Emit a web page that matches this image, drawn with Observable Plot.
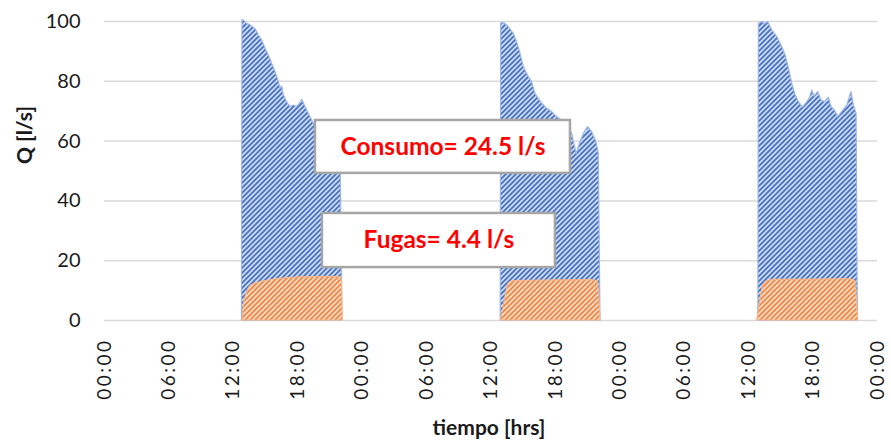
<!DOCTYPE html>
<html>
<head>
<meta charset="utf-8">
<script src="https://cdn.jsdelivr.net/npm/d3@7"></script>
<script src="https://cdn.jsdelivr.net/npm/@observablehq/plot@0.6"></script>
<style>
  html, body { margin: 0; padding: 0; background: #fff; }
  #chart svg { display: block; }
  #chart g[aria-label="x-axis tick label"] text { letter-spacing: 2.5px; }
</style>
</head>
<body>
<div id="chart"></div>
<script>
// ---- Data (hours since start, Q in l/s) ----
const horasConsumo1 = [12.8, 12.85, 12.98, 13.29, 13.6, 14.06, 14.38, 14.69, 15.0, 15.31, 15.62, 15.93, 16.24, 16.39, 16.55, 16.7, 17.01, 17.32, 17.63, 17.94, 18.25, 18.41, 18.63, 18.88, 19.19, 19.5, 20.5, 21.3, 22.0, 22.15];
const consumo1     = [0, 100.5, 100.3, 99.2, 98.7, 97.5, 95.3, 93.6, 90.9, 88.6, 85.8, 83.1, 79.7, 77.5, 78.3, 75.3, 73.0, 71.4, 71.9, 71.4, 72.7, 73.8, 72.2, 70.2, 68.0, 65.7, 61, 57, 54, 0];

const horasConsumo2 = [36.9, 36.95, 37.26, 37.66, 38.12, 38.43, 38.75, 39.06, 39.52, 39.83, 40.14, 40.45, 40.77, 41.23, 41.7, 42.16, 42.63, 43.1, 43.56, 43.97, 44.28, 44.65, 45.05, 45.42, 45.83, 46.04, 46.2];
const consumo2      = [0, 99.4, 99.4, 98.1, 95.9, 93.1, 89.2, 84.7, 81.4, 79.7, 75.8, 74.1, 72.5, 70.8, 69.7, 68.0, 66.9, 66.3, 62.4, 55.7, 59.0, 62.4, 64.7, 63.0, 59.6, 55.7, 0];

const horasConsumo3 = [60.9, 60.95, 61.26, 61.57, 61.82, 62.2, 62.66, 63.13, 63.44, 63.75, 64.06, 64.37, 64.68, 65.05, 65.36, 65.67, 65.92, 66.13, 66.47, 66.79, 67.1, 67.47, 67.72, 68.03, 68.34, 68.71, 69.18, 69.58, 69.8, 70.05, 70.17];
const consumo3      = [0, 99.2, 99.8, 99.2, 99.8, 97.0, 94.8, 91.4, 88.6, 84.2, 79.1, 75.3, 73.0, 71.2, 72.5, 74.1, 76.9, 74.9, 76.4, 73.6, 73.0, 74.5, 71.4, 70.2, 68.0, 69.7, 71.9, 76.4, 71.9, 69.1, 0];

const horasFugas1 = [12.85, 13.0, 13.3, 13.6, 14.2, 15.0, 16.0, 17.5, 19.0, 21.0, 21.95, 22.1, 22.2];
const fugas1      = [0, 5.6, 9.5, 11.5, 12.5, 13.2, 13.8, 14.3, 14.5, 14.6, 14.5, 13.5, 0];

const horasFugas2 = [36.94, 37.3, 37.65, 38.0, 38.5, 42.0, 45.5, 45.95, 46.2];
const fugas2      = [0, 7, 12.3, 13.1, 13.2, 13.4, 13.5, 13.0, 0];

const horasFugas3 = [60.8, 61.1, 61.4, 61.8, 62.5, 66.0, 69.5, 69.9, 70.2];
const fugas3      = [0, 7, 12, 13.3, 13.6, 13.7, 13.8, 13.2, 0];

const horasTicks = [0, 6, 12, 18, 24, 30, 36, 42, 48, 54, 60, 66, 72];
const etiquetasX = ["00:00","06:00","12:00","18:00","00:00","06:00","12:00","18:00","00:00","06:00","12:00","18:00","00:00"];
const ticksY = [0, 20, 40, 60, 80, 100];

const textosAnotacion = ["Consumo= 24.5 l/s", "Fugas= 4.4 l/s"];
const anotH1 = [19.65, 20.3];
const anotH2 = [43.4, 42.0];
const anotQ1 = [49.2, 17.7];
const anotQ2 = [66.9, 35.8];

// ---- Build tables ----
const toRows = (hs, qs, serie) => hs.map((h, i) => ({h, q: qs[i], serie}));
const consumo = [
  ...toRows(horasConsumo1, consumo1, "c1"),
  ...toRows(horasConsumo2, consumo2, "c2"),
  ...toRows(horasConsumo3, consumo3, "c3")
];
const fugas = [
  ...toRows(horasFugas1, fugas1, "f1"),
  ...toRows(horasFugas2, fugas2, "f2"),
  ...toRows(horasFugas3, fugas3, "f3")
];
const anotaciones = textosAnotacion.map((t, i) => ({t, h1: anotH1[i], h2: anotH2[i], q1: anotQ1[i], q2: anotQ2[i]}));

const font = "Lato, 'Open Sans', sans-serif";

const chart = Plot.plot({
  width: 891,
  height: 443,
  marginLeft: 104,
  marginRight: 14,
  marginTop: 21,
  marginBottom: 123,
  style: {fontFamily: font, background: "#fff", color: "#1a1a1a"},
  x: {domain: [0, 72]},
  y: {domain: [0, 100]},
  marks: [
    Plot.gridY(ticksY, {stroke: "#D9D9D9", strokeOpacity: 1, strokeWidth: 1.5}),
    Plot.areaY(consumo, {x: "h", y: "q", z: "serie", fill: "url(#rayaAzul)", stroke: "#9DB5E3", strokeWidth: 1.2, curve: "linear"}),
    Plot.areaY(fugas, {x: "h", y: "q", z: "serie", fill: "url(#rayaNaranja)", stroke: "#F6B48A", strokeWidth: 1.2, curve: "monotone-x"}),
    Plot.axisY(ticksY, {tickSize: 0, tickPadding: 24, fontSize: 20, label: null, fill: "#1a1a1a"}),
    Plot.axisX(horasTicks, {tickSize: 0, tickPadding: 18, tickRotate: -90, fontSize: 19, label: null,
      tickFormat: (d) => etiquetasX[horasTicks.indexOf(d)], fill: "#1a1a1a"}),
    Plot.rect(anotaciones, {x1: "h1", x2: "h2", y1: "q1", y2: "q2", fill: "#fff", stroke: "#A6A6A6", strokeWidth: 2.5}),
    Plot.text(anotaciones, {x: (d) => (d.h1 + d.h2) / 2, y: (d) => (d.q1 + d.q2) / 2, text: "t",
      fill: "#FF0000", fontWeight: "bold", fontSize: 24.5}),
    Plot.text(["Q [l/s]"], {text: (d) => d, frameAnchor: "left", rotate: -90, dx: -79, dy: -7,
      fontWeight: "bold", fontSize: 21, fill: "#1a1a1a"}),
    Plot.text(["tiempo [hrs]"], {text: (d) => d, frameAnchor: "bottom", dx: -2, dy: 114,
      fontWeight: "bold", fontSize: 21, fill: "#1a1a1a"})
  ]
});

// hatch pattern definitions
const ns = "http://www.w3.org/2000/svg";
const defs = document.createElementNS(ns, "defs");
defs.innerHTML = `
  <pattern id="rayaAzul" patternUnits="userSpaceOnUse" width="5" height="5">
    <rect width="5" height="5" fill="#CFDCF3"/>
    <path d="M-1,1 l2,-2 M0,5 l5,-5 M4,6 l2,-2" stroke="#4672C4" stroke-width="1.8"/>
  </pattern>
  <pattern id="rayaNaranja" patternUnits="userSpaceOnUse" width="5" height="5">
    <rect width="5" height="5" fill="#FBDCC6"/>
    <path d="M-1,1 l2,-2 M0,5 l5,-5 M4,6 l2,-2" stroke="#EE8745" stroke-width="1.8"/>
  </pattern>`;
chart.insertBefore(defs, chart.firstChild);

document.getElementById("chart").appendChild(chart);
</script>
</body>
</html>
